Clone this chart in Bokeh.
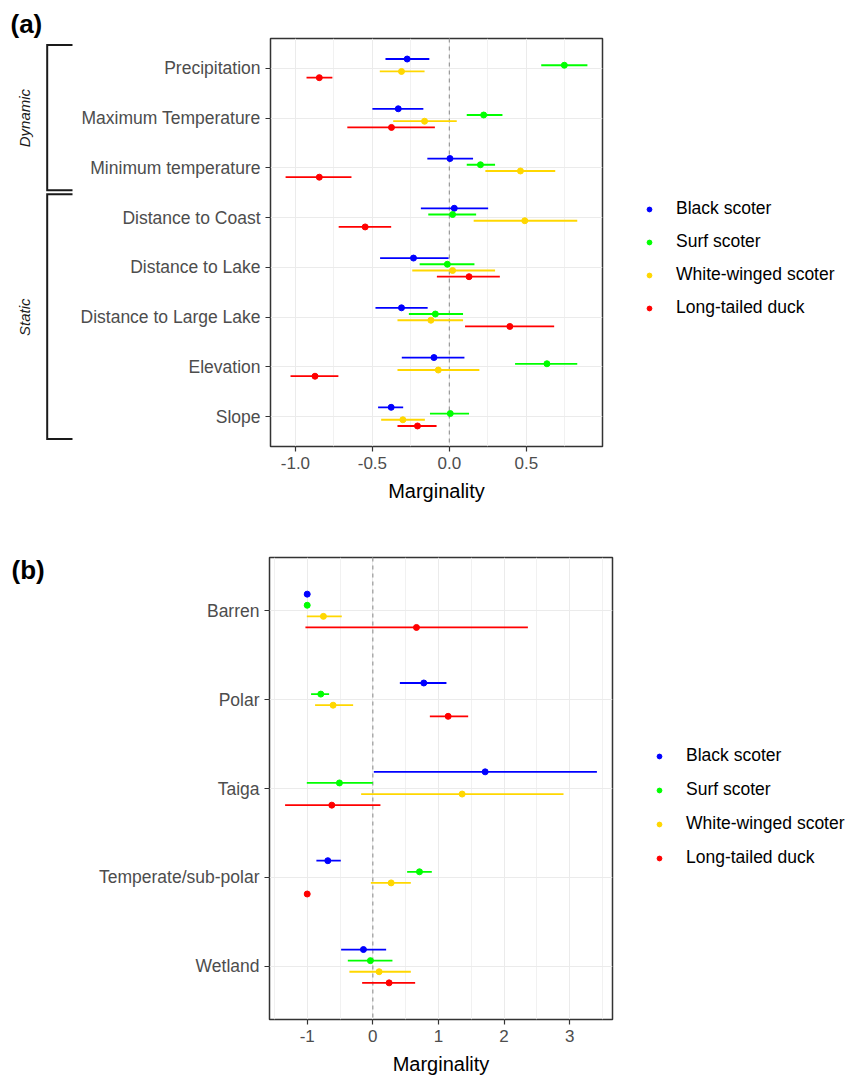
import numpy as np
from bokeh.plotting import figure
from bokeh.models import (ColumnDataSource, FactorRange, Range1d, FixedTicker, Span,
                          Legend, LegendItem, Title)
from bokeh.core.properties import value
from bokeh.transform import dodge
from bokeh.layouts import row
from bokeh.embed import file_html
from bokeh.resources import INLINE

FONT = "Liberation Sans"

species = ["Black scoter", "Surf scoter", "White-winged scoter", "Long-tailed duck"]
colors = ["#0000FF", "#00FF00", "#FFD700", "#FF0000"]
offsets = [0.1875, 0.0625, -0.0625, -0.1875]

# ---------------- panel (a) ----------------
vars_a = ["Precipitation", "Maximum Temperature", "Minimum temperature", "Distance to Coast",
          "Distance to Lake", "Distance to Large Lake", "Elevation", "Slope"]
groups_a = ["Dynamic", "Static"]
group_first_a = ["Precipitation", "Distance to Coast"]
group_last_a = ["Minimum temperature", "Slope"]

mean_a_black = [-0.274, -0.332, 0.004, 0.032, -0.233, -0.311, -0.100, -0.378]
lo_a_black = [-0.415, -0.500, -0.143, -0.185, -0.450, -0.480, -0.309, -0.463]
hi_a_black = [-0.130, -0.169, 0.154, 0.252, -0.005, -0.141, 0.098, -0.300]

mean_a_surf = [0.747, 0.223, 0.202, 0.021, -0.013, -0.091, 0.634, 0.006]
lo_a_surf = [0.597, 0.113, 0.113, -0.137, -0.193, -0.263, 0.427, -0.126]
hi_a_surf = [0.897, 0.345, 0.297, 0.174, 0.163, 0.089, 0.831, 0.128]

mean_a_white = [-0.311, -0.161, 0.462, 0.490, 0.021, -0.120, -0.072, -0.302]
lo_a_white = [-0.452, -0.365, 0.234, 0.158, -0.241, -0.337, -0.337, -0.443]
hi_a_white = [-0.161, 0.048, 0.688, 0.831, 0.297, 0.089, 0.195, -0.159]

mean_a_long = [-0.845, -0.376, -0.845, -0.547, 0.128, 0.393, -0.873, -0.207]
lo_a_long = [-0.928, -0.663, -1.064, -0.719, -0.081, 0.102, -1.032, -0.337]
hi_a_long = [-0.760, -0.094, -0.636, -0.378, 0.328, 0.681, -0.721, -0.083]

ticks_a = [-1.0, -0.5, 0.0, 0.5]
tick_labels_a = ["-1.0", "-0.5", "0.0", "0.5"]
minor_a = [-0.75, -0.25, 0.25, 0.75]

# ---------------- panel (b) ----------------
vars_b = ["Barren", "Polar", "Taiga", "Temperate/sub-polar", "Wetland"]

mean_b_black = [-1.0, 0.777, 1.712, -0.686, -0.143]
lo_b_black = [-1.0, 0.412, 0.015, -0.860, -0.483]
hi_b_black = [-1.0, 1.122, 3.415, -0.488, 0.203]

mean_b_surf = [-1.0, -0.793, -0.509, 0.711, -0.037]
lo_b_surf = [-1.0, -0.941, -1.006, 0.523, -0.381]
hi_b_surf = [-1.0, -0.666, 0.0, 0.899, 0.299]

mean_b_white = [-0.753, -0.605, 1.361, 0.279, 0.096]
lo_b_white = [-1.006, -0.880, -0.178, -0.030, -0.357]
hi_b_white = [-0.473, -0.300, 2.906, 0.579, 0.579]

mean_b_long = [0.665, 1.148, -0.625, -1.0, 0.248]
lo_b_long = [-1.027, 0.869, -1.337, -1.0, -0.163]
hi_b_long = [2.363, 1.453, 0.116, -1.0, 0.645]

ticks_b = [-1, 0, 1, 2, 3]
tick_labels_b = ["-1", "0", "1", "2", "3"]
minor_b = [-1.5, -0.5, 0.5, 1.5, 2.5, 3.5]

# ---------------- layout constants (pixels) ----------------
PAGE_W = 847
STRIP_W = 74
A_H, A_TOP, A_BOT, A_LEFT, A_FRAME_W = 515, 38, 69, 196, 332
B_H, B_TOP, B_BOT, B_LEFT, B_FRAME_W = 562, 42, 55, 195, 343
RB = 2
PAD = 0.1  # categorical padding (each side)


def blank(width, height, top, bot, x_range=None, y_range=None):
    s = figure(width=width, height=height, x_range=x_range or Range1d(0, width),
               y_range=y_range or Range1d(0, 1), output_backend="svg", toolbar_location=None,
               min_border_left=0, min_border_right=0, min_border_top=top, min_border_bottom=bot,
               x_axis_location=None, y_axis_location=None)
    s.outline_line_color = None
    s.grid.visible = False
    s.background_fill_color = "white"
    s.border_fill_color = "white"
    return s


def build(vars_, means, los, his, ticks, tick_labels, minor, height, top, bot, left, frame_w):
    yr = FactorRange(factors=vars_[::-1], range_padding=PAD, range_padding_units="absolute")
    allv = np.concatenate([np.ravel(means), np.ravel(los), np.ravel(his)])
    vmin, vmax = float(allv.min()), float(allv.max())
    pad = 0.05 * (vmax - vmin)
    p = figure(width=left + frame_w + RB, height=height, x_range=Range1d(vmin - pad, vmax + pad), y_range=yr,
               output_backend="svg", toolbar_location=None,
               min_border_left=left, min_border_right=RB, min_border_top=top, min_border_bottom=bot)
    p.background_fill_color = "white"
    p.border_fill_color = "white"
    p.outline_line_color = "#333333"
    p.outline_line_width = 1.5

    p.xaxis.ticker = FixedTicker(ticks=ticks, minor_ticks=minor)
    p.xaxis.major_label_overrides = {float(t): l for t, l in zip(ticks, tick_labels)}
    p.xgrid.grid_line_color = "#EBEBEB"
    p.xgrid.grid_line_width = 1
    p.xgrid.minor_grid_line_color = "#EDEDED"
    p.xgrid.minor_grid_line_width = 0.8
    p.ygrid.grid_line_color = "#EBEBEB"
    p.ygrid.grid_line_width = 1

    for ax in list(p.xaxis) + list(p.yaxis):
        ax.axis_line_color = None
        ax.major_tick_line_color = "#333333"
        ax.major_tick_line_width = 1.2
        ax.major_tick_out = 5
        ax.major_tick_in = 0
        ax.minor_tick_line_color = None
        ax.major_label_text_font = FONT
        ax.major_label_text_color = "#4D4D4D"
        ax.major_label_standoff = 5
    p.xaxis.major_label_text_font_size = "17px"
    p.yaxis.major_label_text_font_size = "17.5px"
    p.xaxis.axis_label = "Marginality"
    p.xaxis.axis_label_text_font = FONT
    p.xaxis.axis_label_text_font_size = "20px"
    p.xaxis.axis_label_text_font_style = "normal"
    p.xaxis.axis_label_text_color = "black"
    p.xaxis.axis_label_standoff = 8

    p.add_layout(Span(location=0, dimension="height", line_color="#999999", line_dash="4 4",
                      line_width=1.2, level="underlay"))

    for k, sp in enumerate(species):
        src = ColumnDataSource(dict(cat=vars_, m=means[k], lo=los[k], hi=his[k]))
        yy = dodge("cat", offsets[k], range=yr)
        p.segment(x0="lo", x1="hi", y0=yy, y1=yy, source=src, line_color=colors[k], line_width=1.8)
        p.scatter(x="m", y=yy, source=src, size=6, fill_color=colors[k], line_color=colors[k])
    return p, yr


def legend_fig(width, height, top, bot, loc, spacing):
    # legend-only panel: one key glyph per species (NaN position, so nothing is plotted)
    lf = blank(width, height, top, bot)
    items = []
    for k, sp in enumerate(species):
        r = lf.scatter(x=[np.nan], y=[np.nan], size=6, fill_color=colors[k], line_color=colors[k])
        items.append(LegendItem(label=sp, renderers=[r]))
    leg = Legend(items=items, location=loc, orientation="vertical", glyph_width=12, glyph_height=20,
                 label_standoff=21, spacing=spacing, padding=0, margin=0, border_line_color=None,
                 background_fill_alpha=0, label_text_font=FONT, label_text_font_size="17.5px",
                 label_text_color="black", label_height=20)
    lf.add_layout(leg)
    return lf


# ---------------- panel (a) ----------------
pA, yrA = build(vars_a,
                [mean_a_black, mean_a_surf, mean_a_white, mean_a_long],
                [lo_a_black, lo_a_surf, lo_a_white, lo_a_long],
                [hi_a_black, hi_a_surf, hi_a_white, hi_a_long],
                ticks_a, tick_labels_a, minor_a, A_H, A_TOP, A_BOT, A_LEFT, A_FRAME_W)

sA = blank(STRIP_W, A_H, A_TOP, A_BOT, y_range=yrA)
nA = len(vars_a)
syn = {v: (nA - 1 - i) + 0.5 for i, v in enumerate(vars_a)}
bx, arm_end = 46.7, 72
for name, first, last in zip(groups_a, group_first_a, group_last_a):
    ytop = syn[first] + 0.47
    ybot = syn[last] - 0.45
    sA.line(x=[arm_end, bx, bx, arm_end], y=[ytop, ytop, ybot, ybot], line_color="#1A1A1A", line_width=2,
            line_join="miter")
    sA.text(x=[24], y=[(syn[first] + syn[last]) / 2], text=[name], angle=np.pi / 2, text_align="center",
            text_baseline="middle", text_font=value(FONT), text_font_size="15px", text_font_style="italic",
            text_color="#1A1A1A")
sA.add_layout(Title(text="(a)", align="left", offset=10, standoff=0, text_line_height=1.2, text_font=FONT,
                    text_font_size="26px", text_font_style="bold", text_color="black"), "above")

lA_w = PAGE_W - STRIP_W - (A_LEFT + A_FRAME_W + RB)
lA = legend_fig(lA_w, A_H, A_TOP, A_BOT, (39, 128), 12)

# ---------------- panel (b) ----------------
pB, yrB = build(vars_b,
                [mean_b_black, mean_b_surf, mean_b_white, mean_b_long],
                [lo_b_black, lo_b_surf, lo_b_white, lo_b_long],
                [hi_b_black, hi_b_surf, hi_b_white, hi_b_long],
                ticks_b, tick_labels_b, minor_b, B_H, B_TOP, B_BOT, B_LEFT, B_FRAME_W)

sB = blank(STRIP_W, B_H, B_TOP, B_BOT, y_range=yrB)
nB = len(vars_b)
ppuB = (B_H - B_TOP - B_BOT) / (nB + 2 * PAD)
sB.text(x=[11], y=[nB + PAD - 13 / ppuB], text=["(b)"], text_align="left", text_baseline="middle",
        text_font=value(FONT), text_font_size="26px", text_font_style="bold", text_color="black")

lB_w = PAGE_W - STRIP_W - (B_LEFT + B_FRAME_W + RB)
lB = legend_fig(lB_w, B_H, B_TOP, B_BOT, (39, 151), 13)

rowA = row(sA, pA, lA)
rowB = row(sB, pB, lB)
open("out.html", "w").write(file_html([rowA, rowB], INLINE))
